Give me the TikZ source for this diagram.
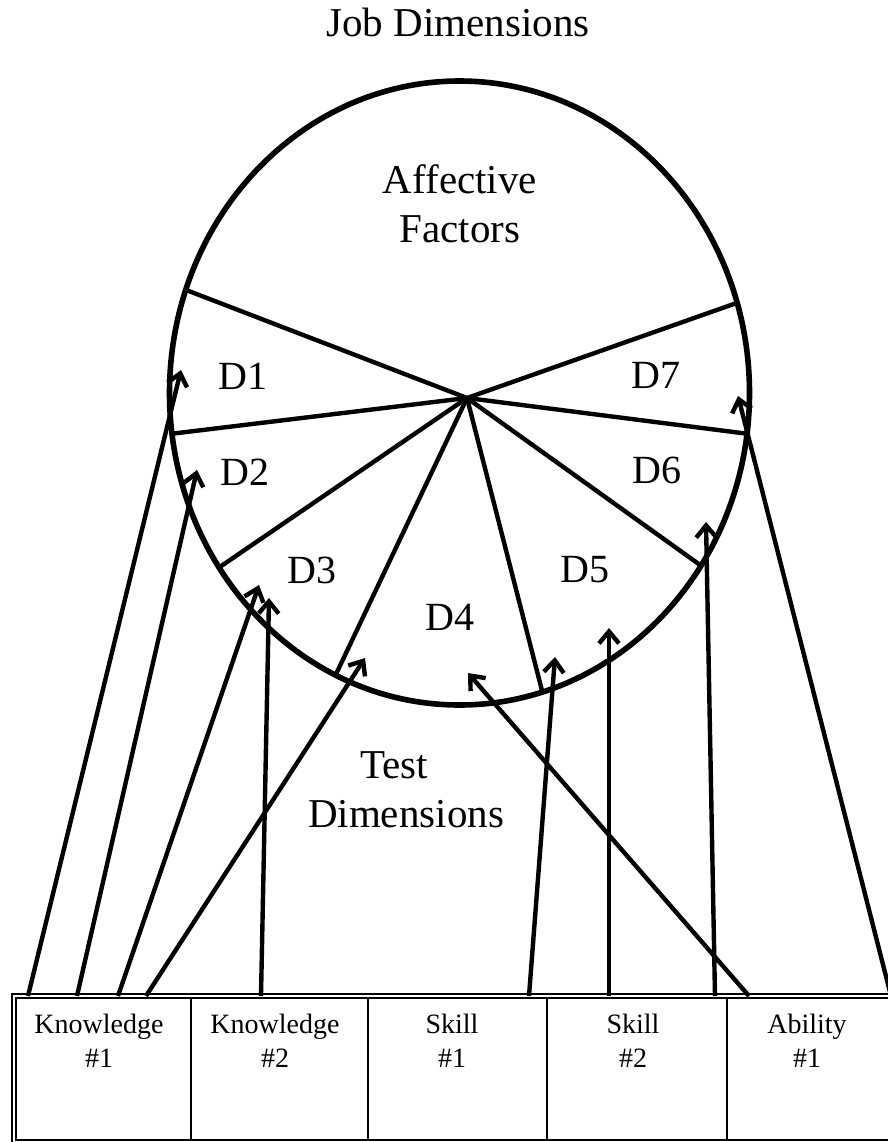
\documentclass[tikz,border=0pt]{standalone}
\usepackage{fontspec}
\setmainfont{Liberation Serif}
\usetikzlibrary{arrows.meta}
\tikzset{
  rim/.style={line width=2.8pt},
  spoke/.style={line width=2.2pt},
  arr/.style={line width=2.2pt, -{Straight Barb[length=6pt,width=10pt]}},
  grid/.style={line width=0.8pt},
  bigtext/.style={font=\fontsize{20.5}{24}\selectfont, inner sep=0pt, anchor=base},
  seglabel/.style={font=\fontsize{20}{24}\selectfont, inner sep=0pt, anchor=base},
  celltext/.style={font=\fontsize{14}{17}\selectfont, inner sep=0pt, anchor=base}
}
\begin{document}
\begin{tikzpicture}[x=0.5pt, y=-0.5pt]
\useasboundingbox (0,0) rectangle (888,1142);
% title
\node[bigtext] (title) at (458,36) {Job Dimensions};
% circle of job dimensions
\coordinate (C) at (459.5,393);
\coordinate (hub) at (467,398);
\draw[rim] (C) ellipse [x radius=145pt, y radius=156pt];
\foreach \a in {199.3,172.5,146,115.3,73.4,33.6,7.5,343.2}
{
	\draw[spoke] (hub) -- ([shift={(\a:290 and 312)}]C);
}
\node[bigtext] (aff) at (460,193) {Affective};
\node[bigtext] (fac) at (460,242) {Factors};
\foreach \n / \x / \y in {1/243/389, 2/245/485, 3/312/583, 4/450/630, 5/585/582, 6/657/483, 7/656/388}
{
	\node[seglabel] (d\n) at (\x,\y) {D\n};
}
\node[bigtext] (test) at (394,778) {Test};
\node[bigtext] (tdim) at (406,827) {Dimensions};
% test dimensions
\draw[grid] (12,1150) -- (12,994) -- (900,994);
\foreach \c / \xa / \xb / \xt / \ta / \tb in {k1/16/191/99/Knowledge/\#1, k2/191/368/275/Knowledge/\#2, s1/368/547/452/Skill/\#1, s2/547/727/633/Skill/\#2, a1/727/907/807/Ability/\#1}
{
	\draw[grid] (\xa,998) rectangle (\xb,1140);
	\node[celltext] (\c-a) at (\xt,1033) {\ta};
	\node[celltext] (\c-b) at (\xt,1067) {\tb};
}
% links
\foreach \i / \tx / \hx / \hy in {1/28/181/370, 2/77/197/470, 3/118/259/585, 4/146/365/658, 5/261/269/598, 6/529/555/657, 7/609/609/628, 8/715/706/522, 9/749/468/673, 10/891/738/396}
{
	\coordinate (foot\i) at (\tx,996);
	\coordinate (tip\i) at (\hx,\hy);
	\draw[arr] (foot\i) -- (tip\i);
}
\end{tikzpicture}
\end{document}
